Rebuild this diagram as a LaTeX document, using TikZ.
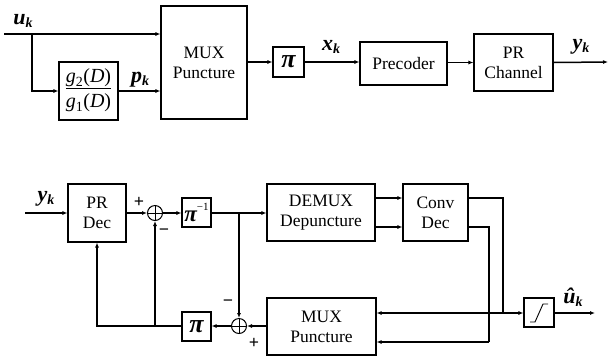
\documentclass[tikz,border=0pt]{standalone}
\usepackage{fontspec}
\setmainfont{Liberation Serif}[Ligatures=TeX]
\newfontfamily\tnr{Liberation Serif}
\usetikzlibrary{arrows.meta}
\newcommand\lab[2]{{\tnr\fontsize{22}{22}\selectfont\bfseries\itshape #1\raisebox{-0.3ex}{\fontsize{14}{14}\selectfont #2}}}
\begin{document}
\begin{tikzpicture}[x=1pt,y=-1pt,
  blk/.style={draw,line width=1.1pt,rectangle,inner sep=0pt,align=center,
    font=\tnr\fontsize{17.5}{20}\selectfont},
  sumc/.style={draw,line width=1pt,circle,minimum size=15pt,inner sep=0pt,
    path picture={\draw[line width=0.8pt] (path picture bounding box.north)--(path picture bounding box.south)
      (path picture bounding box.west)--(path picture bounding box.east);}},
  wire/.style={line width=1.5pt},
  arr/.style={wire,-{Latex[length=5pt,width=4pt]}},
  sgn/.style={font=\tnr\fontsize{18}{18}\selectfont\bfseries,inner sep=0pt},
  txt/.style={inner sep=0pt}]
\useasboundingbox (0,0) rectangle (609,357);
% ---------- top row ----------
\node[blk,minimum width=86pt,minimum height=113pt] (mux) at (204,62.5) {MUX\\Puncture};
\node[blk,minimum width=59pt,minimum height=58pt] (g) at (88.5,91)
  {\fontsize{20}{22}\selectfont\begin{tabular}{@{}c@{}}\itshape g\textsubscript{\upshape 2}\upshape(\itshape D\upshape)\\[-2pt]\hline\rule{0pt}{20pt}\itshape g\textsubscript{\upshape 1}\upshape(\itshape D\upshape)\end{tabular}};
\node[blk,minimum width=31pt,minimum height=30pt] (pi1) at (288.5,62) {\fontsize{26}{26}\selectfont\bfseries\itshape π};
\node[blk,minimum width=87pt,minimum height=43pt] (pre) at (403.5,63.5) {Precoder};
\node[blk,minimum width=79pt,minimum height=57pt] (prc) at (513.5,62.5) {PR\\Channel};
\coordinate (uin) at (4,34);
\coordinate (ub) at (32,34);
\coordinate (yout) at (608,62);
\draw[arr] (uin) -- (mux.west |- uin);
\draw[arr] (ub) |- (g.west);
\draw[arr] (g.east) -- (mux.west |- g.east);
\draw[arr] (mux.east |- pi1.west) -- (pi1.west);
\draw[arr] (pi1.east) -- (pre.west |- pi1.east);
\draw[arr] (pre.east |- prc.west) -- (prc.west);
\draw[arr] (prc.east) -- (yout);
\node[txt] (lu) at (23,21) {\lab{u}{k}};
\node[txt] (lp) at (140,80) {\lab{p}{k}};
\node[txt] (lx) at (331,47) {\lab{x}{k}};
\node[txt] (ly) at (581,47) {\lab{y}{k}};
% ---------- bottom row ----------
\node[blk,minimum width=58pt,minimum height=58pt] (prd) at (97,213) {PR\\Dec};
\node[sumc] (s1) at (155,213) {};
\node[blk,minimum width=29pt,minimum height=29pt] (pinv) at (196.5,212.5)
  {\fontsize{23}{23}\selectfont\bfseries\itshape π\raisebox{1.1ex}{\fontsize{11}{11}\selectfont\mdseries\upshape −1}};
\node[blk,minimum width=108pt,minimum height=57pt] (dem) at (321,212.5) {DEMUX\\Depuncture};
\node[blk,minimum width=65pt,minimum height=57pt] (cdec) at (435.5,212.5) {Conv\\Dec};
\node[blk,minimum width=109pt,minimum height=57pt] (mux2) at (321.5,326.5) {MUX\\Puncture};
\node[sumc] (s2) at (239,326) {};
\node[blk,minimum width=29pt,minimum height=29pt] (pi2) at (196.5,326.5) {\fontsize{26}{26}\selectfont\bfseries\itshape π};
\node[blk,minimum width=30pt,minimum height=29pt] (sl) at (539,312.5) {};
\draw[line width=0.9pt] (530,322) -- (535,322) -- (543,304) -- (548,304);
\coordinate (yin) at (25,213);
\coordinate (br1) at (239,213);
\coordinate (fbl) at (97,326);
\coordinate (fbm) at (155,326);
\coordinate (c1) at (503,198);
\coordinate (c2) at (489,227);
\coordinate (j1) at (503,313);
\coordinate (j2) at (489,342);
\coordinate (uout) at (595,313);
\draw[arr] (yin) -- (prd.west);
\draw[arr] (prd.east) -- (s1.west);
\draw[arr] (s1.east) -- (pinv.west |- s1.east);
\draw[arr] (pinv.east |- s1.east) -- (dem.west |- s1.east);
\draw[arr] (br1) -- (s2.north);
\draw[arr] (mux2.west |- s2.east) -- (s2.east);
\draw[arr] (s2.west) -- (pi2.east |- s2.west);
\draw[arr] (pi2.west |- fbl) -- (fbl) -- (prd.south);
\draw[arr] (fbm) -- (s1.south);
\draw[arr] (dem.east |- c1) -- (cdec.west |- c1);
\draw[arr] (dem.east |- c2) -- (cdec.west |- c2);
\draw[wire] (cdec.east |- c1) -- (c1) -- (j1);
\draw[arr] (j1) -- (mux2.east |- j1);
\draw[arr] (j1) -- (sl.west |- j1);
\draw[wire] (cdec.east |- c2) -- (c2) -- (j2);
\draw[arr] (j2) -- (mux2.east |- j2);
\draw[arr] (sl.east |- uout) -- (uout);
\node[txt] (ly2) at (46,199) {\lab{y}{k}};
\node[txt] (lu2) at (573,297) {\lab{û}{k}};
\node[sgn] (p1) at (139,202) {+};
\node[sgn] (m1) at (164,232) {−};
\node[sgn] (m2) at (228,303) {−};
\node[sgn] (p2) at (254,343) {+};
\end{tikzpicture}
\end{document}
